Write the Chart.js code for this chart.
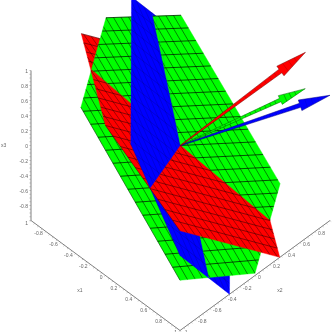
<!DOCTYPE html>
<html>
<head>
<meta charset="utf-8">
<style>
  html, body { margin: 0; padding: 0; background: #fff; }
  canvas { display: block; }
</style>
<script src="https://cdn.jsdelivr.net/npm/chart.js@4"></script>
</head>
<body>
<canvas id="chart" width="334" height="332"></canvas>
<script>
// normals
const redNormal = [0.67, 1, 1]
const greenNormal = [1, 0.67, 1]
const blueNormal = [1, 1, 0.67]

// plane outlines inside the [-1, 1] box, as [x1, x2, x3]
const redCorners = [[-1, -0.33, 1], [0, -1, 1], [1, -1, 0.33], [1, 0.33, -1], [0, 1, -1], [-1, 1, -0.33]]
const greenCorners = [[-1, 1, 0.27], [-1, 0, 0.97], [-0.33, -1, 1], [1, -1, -0.33], [1, 0, -0.97], [0.33, 1, -1]]
const blueCorners = [[-1, 0.34, 1], [0.34, -1, 1], [1, -1, 0], [1, -0.34, -1], [-0.34, 1, -1], [-1, 1, 0]]

const meshValues = [-1, -0.9, -0.8, -0.7, -0.6, -0.5, -0.4, -0.3, -0.2, -0.1, 0, 0.1, 0.2, 0.3, 0.4, 0.5, 0.6, 0.7, 0.8, 0.9, 1]

const tickValues = [-1, -0.8, -0.6, -0.4, -0.2, 0, 0.2, 0.4, 0.6, 0.8, 1]
const minorTicks = [-1, -0.95, -0.9, -0.85, -0.8, -0.75, -0.7, -0.65, -0.6, -0.55, -0.5, -0.45, -0.4, -0.35, -0.3, -0.25, -0.2, -0.15, -0.1, -0.05, 0,
  0.05, 0.1, 0.15, 0.2, 0.25, 0.3, 0.35, 0.4, 0.45, 0.5, 0.55, 0.6, 0.65, 0.7, 0.75, 0.8, 0.85, 0.9, 0.95, 1]

// arrow outline: fraction along the shaft, half width as a share of the head
const arrowStations = [0, 0.8, 0.8, 1]
const arrowWidths = [0.06, 0.38, 1, 0]
const arrowRings = [0.04, 0.08, 0.12, 0.16, 0.2, 0.24, 0.28, 0.32, 0.36, 0.4, 0.44, 0.48, 0.52, 0.56, 0.6, 0.64, 0.68, 0.72, 0.76, 0.84, 0.88, 0.92]

const RED = '#ff0000'
const GREEN = '#00ff00'
const BLUE = '#0000ff'

// view from the x1=1, x2=-1 corner
const project = ([a, b, c]) => ({ x: 74.5 * a + 75 * b, y: 55 * a - 55 * b - 75 * c })
const dot = (p, n) => p[0] * n[0] + p[1] * n[1] + p[2] * n[2]
const mix = (p, q, t) => p.map((v, i) => v + (q[i] - v) * t)
const centre = poly => poly.reduce((sum, p) => sum.map((v, i) => v + p[i] / poly.length), [0, 0, 0])

function clipPolygon(poly, normal, side) {
  const out = []
  poly.forEach((p, i) => {
    const q = poly[(i + 1) % poly.length]
    const dp = dot(p, normal) * side
    const dq = dot(q, normal) * side
    if (dp >= 0) out.push(p)
    if ((dp > 0 && dq < 0) || (dp < 0 && dq > 0)) out.push(mix(p, q, dp / (dp - dq)))
  })
  return out
}

function splitPolygon(poly, normals) {
  let parts = [poly]
  normals.forEach(n => {
    parts = parts.flatMap(part => [clipPolygon(part, n, 1), clipPolygon(part, n, -1)]).filter(part => 2 < part.length)
  })
  return parts
}

// grid lines of one piece along one axis, broken up with NaN points
function meshSegments(poly, axis) {
  const pts = []
  meshValues.forEach(v => {
    const hits = []
    poly.forEach((p, i) => {
      const q = poly[(i + 1) % poly.length]
      if ((p[axis] <= v && v < q[axis]) || (q[axis] <= v && v < p[axis])) {
        hits.push(mix(p, q, (v - p[axis]) / (q[axis] - p[axis])))
      }
    })
    if (1 < hits.length) pts.push(project(hits[0]), project(hits[hits.length - 1]), { x: NaN, y: NaN })
  })
  return pts
}

const planes = [
  { corners: redCorners, others: [greenNormal, blueNormal], color: RED, mesh: ['rgba(0,0,0,0.55)', 'rgba(0,0,0,0.45)'] },
  { corners: greenCorners, others: [redNormal, blueNormal], color: GREEN, mesh: ['rgba(0,0,0,0.85)', 'rgba(0,0,0,0.6)'] },
  { corners: blueCorners, others: [redNormal, greenNormal], color: BLUE, mesh: ['rgba(0,0,0,0.18)', 'rgba(0,0,0,0.18)'] },
]

// the viewer is on the positive side of all three planes, so the more
// planes a piece is in front of, the later it has to be painted
const pieces = planes.flatMap(plane =>
  splitPolygon(plane.corners, plane.others).map(poly => {
    const mid = centre(poly)
    return {
      poly,
      color: plane.color,
      mesh: plane.mesh,
      rank: plane.others.filter(n => 0 < dot(mid, n)).length,
    }
  }))
pieces.sort((p, q) => q.rank - p.rank)

const datasets = []
const line = (data, extra) => datasets.push({
  data,
  showLine: true,
  pointRadius: 0,
  tension: 0,
  borderWidth: 0.8,
  ...extra,
})

// axes
const axisSets = [
  t => [-1, -1, t],
  t => [t, -1, -1],
  t => [1, t, -1],
]
const tickOffsets = [{ x: -1.6, y: 0 }, { x: -1.2, y: 1 }, { x: 1.2, y: 1 }]
axisSets.forEach((at, i) => {
  line([project(at(-1)), project(at(1))], { borderColor: '#808080', borderWidth: 1, order: 1000 })
  const ticks = minorTicks.flatMap(t => {
    const p = project(at(t))
    return [p, { x: p.x + tickOffsets[i].x, y: p.y + tickOffsets[i].y }, { x: NaN, y: NaN }]
  })
  line(ticks, { borderColor: '#b0b0b0', borderWidth: 0.7, order: 1000 })
})

// planes, lower order paints later in Chart.js
pieces.forEach((piece, k) => {
  const outline = piece.poly.map(project)
  outline.push(outline[0])
  line(outline, { backgroundColor: piece.color, borderColor: piece.color, borderWidth: 0.4, fill: 'shape', order: 3 * k + 12 })
  line(meshSegments(piece.poly, 1), { borderColor: piece.mesh[1], order: 3 * k + 11 })
  line(meshSegments(piece.poly, 0), { borderColor: piece.mesh[0], order: 3 * k + 10 })
})

// arrows on top
function arrowPoint(tip, f, w) {
  const len = Math.hypot(tip.x, tip.y)
  return { x: tip.x * f - tip.y / len * w, y: tip.y * f + tip.x / len * w }
}

function arrowOutline(normal, head) {
  const tip = project(normal)
  const one = arrowStations.map((f, i) => arrowPoint(tip, f, arrowWidths[i] * head))
  const two = arrowStations.map((f, i) => arrowPoint(tip, f, -arrowWidths[i] * head)).reverse()
  return [...one, ...two, one[0]]
}

function arrowHatch(normal, head) {
  const tip = project(normal)
  return arrowRings.flatMap(f => {
    const share = f < 0.8 ? 0.06 + 0.32 * f / 0.8 : (1 - f) / 0.2
    return [arrowPoint(tip, f, share * head), arrowPoint(tip, f, -share * head), { x: NaN, y: NaN }]
  })
}

const arrows = [
  { normal: redNormal, color: RED, edge: '#700000', head: 6, hatch: 'rgba(0,0,0,0.25)', order: 1 },
  { normal: blueNormal, color: BLUE, edge: '#000080', head: 5.6, hatch: 'rgba(0,0,0,0.15)', order: 3 },
  { normal: greenNormal, color: GREEN, edge: '#006000', head: 4.8, hatch: 'rgba(0,0,0,0.55)', order: 5 },
]
arrows.forEach(a => {
  line(arrowOutline(a.normal, a.head), { backgroundColor: a.color, borderColor: a.edge, borderWidth: 0.5, fill: 'shape', order: a.order + 1 })
  line(arrowHatch(a.normal, a.head), { borderColor: a.hatch, borderWidth: 0.6, order: a.order })
})

const axisText = {
  id: 'axisText',
  afterDraw(chart) {
    const { ctx, scales } = chart
    const put = (p, dx, dy, text, align) => {
      ctx.textAlign = align
      ctx.fillText(text, scales.x.getPixelForValue(p.x) + dx, scales.y.getPixelForValue(p.y) + dy)
    }
    ctx.save()
    ctx.font = '5px "Liberation Sans"'
    ctx.fillStyle = '#666'
    ctx.textBaseline = 'middle'
    tickValues.forEach(t => {
      put(project([-1, -1, t]), -3, t === -1 ? 3.5 : 1, String(t === -1 ? 1 : t), 'right')
      if (t !== -1) put(project([t, -1, -1]), -3, 2.5, String(t), 'right')
      if (t !== 1) put(project([1, t, -1]), 3, 2.5, String(t), 'left')
    })
    put(project([-1, -1, 0]), -30, 0, 'x3', 'left')
    put({ x: -100.5, y: 145.5 }, 0, 0, 'x1', 'center')
    put({ x: 99.5, y: 145.5 }, 0, 0, 'x2', 'center')
    ctx.restore()
  },
}

new Chart(document.getElementById('chart'), {
  type: 'scatter',
  data: { datasets },
  options: {
    responsive: false,
    animation: false,
    events: [],
    layout: { padding: 0 },
    plugins: { legend: { display: false }, tooltip: { enabled: false } },
    scales: {
      x: { type: 'linear', display: false, min: -180.5, max: 153.5 },
      y: { type: 'linear', display: false, min: -145.5, max: 186.5, reverse: true },
    },
  },
  plugins: [axisText],
})
</script>
</body>
</html>
